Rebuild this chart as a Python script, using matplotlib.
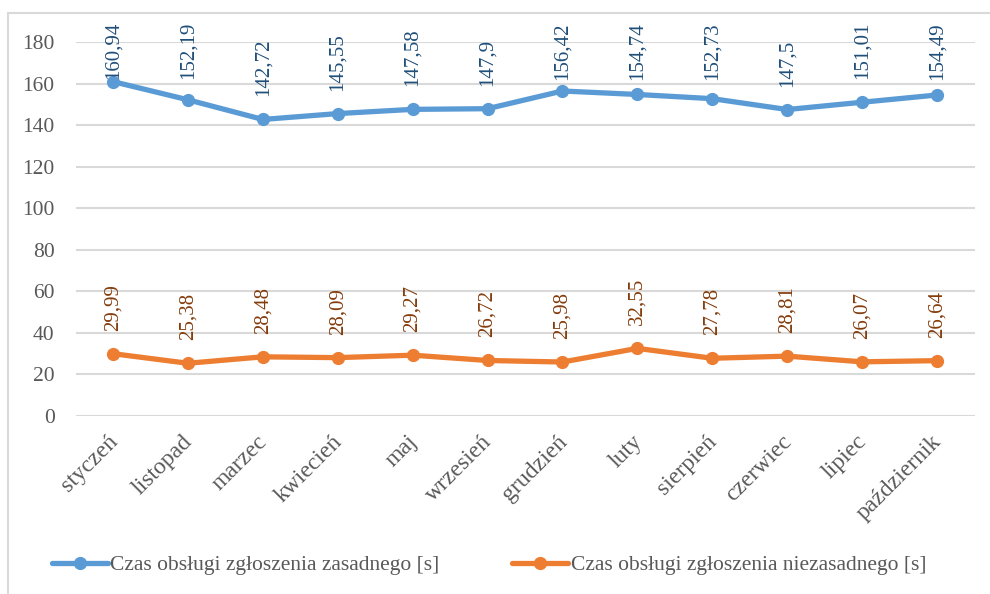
import matplotlib
matplotlib.use("Agg")
import matplotlib.pyplot as plt
from matplotlib.patches import Rectangle
from matplotlib.font_manager import FontProperties
from matplotlib.transforms import ScaledTranslation

# Monthly handling times, in seconds
months = ["styczeń", "listopad", "marzec", "kwiecień", "maj", "wrzesień",
          "grudzień", "luty", "sierpień", "czerwiec", "lipiec", "październik"]
valid_time = [160.94, 152.19, 142.72, 145.55, 147.58, 147.90,
              156.42, 154.74, 152.73, 147.50, 151.01, 154.49]
invalid_time = [29.99, 25.38, 28.48, 28.09, 29.27, 26.72,
                25.98, 32.55, 27.78, 28.81, 26.07, 26.64]
valid_name = "Czas obsługi zgłoszenia zasadnego [s]"
invalid_name = "Czas obsługi zgłoszenia niezasadnego [s]"
y_ticks = [0, 20, 40, 60, 80, 100, 120, 140, 160, 180]

BLUE = "#5B9BD5"
ORANGE = "#ED7D31"
BLUE_LBL = "#1F4E79"
ORANGE_LBL = "#843C0C"
GRAY = "#595959"
GRID = "#D9D9D9"
SERIF = ["Liberation Serif", "DejaVu Serif"]

plt.rcParams["font.family"] = SERIF

W, H = 990, 594
fig = plt.figure(figsize=(W / 100, H / 100), dpi=100)
ax = fig.add_axes([75.5 / W, 1 - 416 / H, 899 / W, 374 / H])

# outer chart frame
fig.patches.append(Rectangle((7.5 / W, -0.1), 1.2, 1 - 12.5 / H + 0.1,
                             transform=fig.transFigure, fill=False,
                             edgecolor=GRID, linewidth=1.5))

x = list(range(len(months)))
ax.plot(x, valid_time, color=BLUE, lw=3.8, marker="o", ms=8.5,
        solid_capstyle="round", label=valid_name, zorder=3)
ax.plot(x, invalid_time, color=ORANGE, lw=3.8, marker="o", ms=8.5,
        solid_capstyle="round", label=invalid_name, zorder=3)

ax.set_xlim(-0.5, len(months) - 0.5)
ax.set_ylim(0, 180)
ax.set_yticks(y_ticks)
ax.yaxis.grid(True, color=GRID, lw=1.5)
ax.set_axisbelow(True)
for s in ax.spines.values():
    s.set_visible(False)
ax.tick_params(length=0, labelsize=15.5, labelcolor=GRAY)
ax.tick_params(axis="y", pad=15)
ax.set_xticks(x)
ax.set_xticklabels(months, rotation=45, ha="right", va="top",
                   rotation_mode="anchor", fontsize=17)
ax.tick_params(axis="x", pad=11)
shift = ScaledTranslation(-6 / 100, 0, fig.dpi_scale_trans)
for lbl in ax.get_xticklabels():
    lbl.set_transform(lbl.get_transform() + shift)

# rotated value labels above each point, kept inside the frame
fig.canvas.draw()
renderer = fig.canvas.get_renderer()
top_limit = H - 22  # display coords (origin bottom)
for series, col in ((valid_time, BLUE_LBL), (invalid_time, ORANGE_LBL)):
    for xi, v in zip(x, series):
        px, py = ax.transData.transform((xi, v))
        t = ax.text(xi, v, f"{v:g}".replace(".", ","), rotation=90,
                    ha="center", va="bottom", fontsize=15, color=col,
                    zorder=4)
        ext = t.get_window_extent(renderer)
        base = py + 23
        if base + ext.height > top_limit:
            base = top_limit - ext.height
        t.set_position(ax.transData.inverted().transform((px, base)))

leg = fig.legend(loc="center", bbox_to_anchor=(489 / W, 1 - 565 / H), ncol=2,
                 frameon=False, prop=FontProperties(family=SERIF, size=15.5),
                 handlelength=2.6, handletextpad=0.1, columnspacing=3.4)
for t in leg.get_texts():
    t.set_color(GRAY)

fig.savefig("out.png", dpi=100)
